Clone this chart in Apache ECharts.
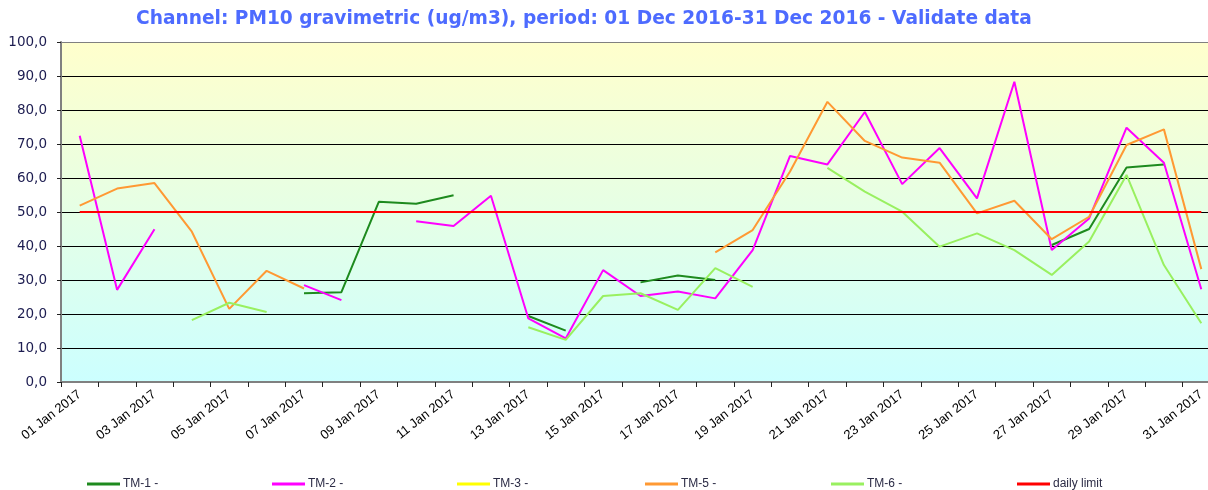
<!DOCTYPE html>
<html>
<head>
<meta charset="utf-8">
<script src="https://cdn.jsdelivr.net/npm/echarts@6/dist/echarts.min.js"></script>
<style>
html,body{margin:0;padding:0;background:#fff;}
#c{width:1208px;height:490px;}
</style>
</head>
<body>
<div id="c"></div>
<script>
var titleText = 'Channel: PM10 gravimetric (ug/m3), period: 01 Dec 2016-31 Dec 2016 - Validate data';
var categories = [];
for (var d = 1; d <= 31; d++) { categories.push((d < 10 ? '0' + d : '' + d) + ' Jan 2017'); }
var yTicks = [0, 10, 20, 30, 40, 50, 60, 70, 80, 90, 100];

var tm1 = [null,null,null,null,null,null,26.1,26.4,53.0,52.4,54.9,null,19.4,15.1,null,29.3,31.3,30.0,null,null,null,null,null,null,null,null,40.3,45.0,63.1,64.0,null];
var tm2 = [72.4,27.1,44.9,null,null,null,28.5,24.1,null,47.3,45.9,54.8,18.7,12.8,32.9,25.3,26.6,24.6,38.8,66.5,64.0,79.4,58.2,68.8,54.0,88.3,38.8,48.1,74.8,64.5,27.3];
var tm3 = [null,null,null,null,null,null,null,null,null,null,null,null,null,null,null,null,null,null,null,null,null,null,null,null,null,null,null,null,null,null,null];
var tm5 = [51.9,56.9,58.5,44.2,21.5,32.7,27.5,null,null,null,null,null,null,null,null,null,null,38.1,44.7,61.9,82.4,70.9,66.0,64.5,49.6,53.3,42.0,48.6,69.7,74.3,33.2];
var tm6 = [null,null,null,18.2,23.3,20.6,null,null,null,null,null,null,16.1,12.4,25.3,26.1,21.2,33.5,28.0,null,63.0,56.0,50.1,39.8,43.7,38.8,31.5,41.3,60.9,34.4,17.3];
var dailyLimit = [50,50,50,50,50,50,50,50,50,50,50,50,50,50,50,50,50,50,50,50,50,50,50,50,50,50,50,50,50,50,50];

var seriesNames = ['TM-1 -', 'TM-2 -', 'TM-3 -', 'TM-5 -', 'TM-6 -', 'daily limit'];
var seriesData = [tm1, tm2, tm3, tm5, tm6, dailyLimit];
var seriesColors = ['#1E8A1E', '#FF00FF', '#FFFF00', '#FF9933', '#99F060', '#FF0000'];
var legendLefts = [87, 272, 457, 645, 831, 1017];

var chart = echarts.init(document.getElementById('c'), null, {renderer: 'canvas'});

var series = seriesNames.map(function (n, i) {
  return {
    name: n,
    type: 'line',
    data: seriesData[i],
    symbol: 'none',
    showSymbol: false,
    connectNulls: false,
    silent: true,
    animation: false,
    lineStyle: {color: seriesColors[i], width: 2},
    itemStyle: {color: seriesColors[i]},
    z: i === 5 ? 5 : 3
  };
});

var legends = seriesNames.map(function (n, i) {
  return {
    data: [n],
    left: legendLefts[i],
    top: 478,
    padding: 0,
    icon: 'rect',
    itemWidth: 33,
    itemHeight: 3,
    itemGap: 4,
    selectedMode: false,
    textStyle: {fontFamily: 'Liberation Sans, Arial, sans-serif', fontSize: 12, color: '#2B2B45', padding: [0,0,0,-2]}
  };
});

var splitColors = yTicks.map(function (v) { return v === 100 ? '#808080' : '#000000'; });

chart.setOption({
  backgroundColor: '#ffffff',
  animation: false,
  title: {
    text: titleText,
    left: 131,
    top: 5,
    textStyle: {color: '#4D6BFF', fontSize: 18.6, fontWeight: 'bold', fontFamily: 'DejaVu Sans, Verdana, sans-serif'}
  },
  legend: legends,
  grid: {
    left: 61,
    top: 42,
    width: 1159,
    height: 340,
    outerBoundsMode: 'none',
    containLabel: false,
    show: true,
    borderWidth: 0,
    backgroundColor: new echarts.graphic.LinearGradient(0, 0, 0, 1, [
      {offset: 0, color: '#FFFFCC'},
      {offset: 1, color: '#CCFFFF'}
    ])
  },
  xAxis: {
    type: 'category',
    data: categories,
    boundaryGap: true,
    axisLine: {lineStyle: {color: '#808080', width: 2}},
    axisTick: {show: true, interval: 0, length: 5, lineStyle: {color: '#222', width: 1}},
    axisLabel: {interval: 1, rotate: 38, fontSize: 13, color: '#000', fontFamily: 'Liberation Sans, Arial, sans-serif', margin: 11},
    splitLine: {show: false}
  },
  yAxis: {
    type: 'value',
    min: 0,
    max: 100,
    interval: 10,
    axisLine: {show: true, lineStyle: {color: '#808080', width: 2}},
    axisTick: {show: true, length: 4, lineStyle: {color: '#222'}},
    axisLabel: {
      fontSize: 13.5,
      color: '#1C1C50',
      fontFamily: 'DejaVu Sans, Verdana, sans-serif',
      margin: 14,
      formatter: function (v) { return v.toFixed(1).replace('.', ','); }
    },
    splitLine: {show: true, lineStyle: {color: splitColors, width: 1}}
  },
  series: series
});
</script>
</body>
</html>
